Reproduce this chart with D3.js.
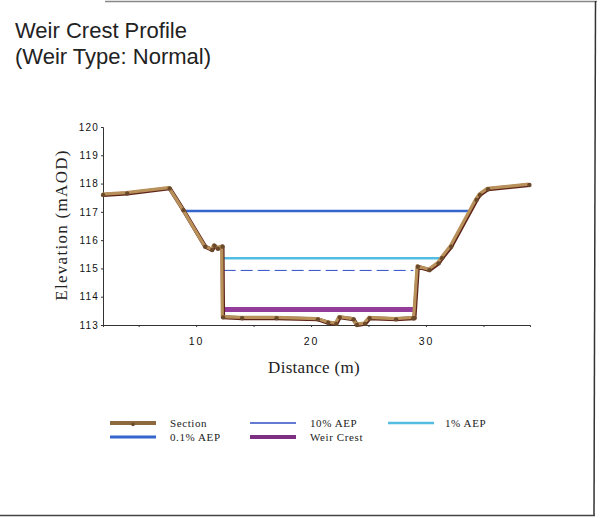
<!DOCTYPE html>
<html>
<head>
<meta charset="utf-8">
<script src="https://cdn.jsdelivr.net/npm/d3@7"></script>
<style>
  body { margin: 0; background: #fff; }
  svg { display: block; }
</style>
</head>
<body>
<div id="chart"></div>
<script>
// cross section profile (distance m, elevation mAOD)
const sectionX = [1.9, 4.0, 7.7, 8.9, 10.8, 11.4, 11.6, 11.9, 12.3, 12.35, 14.0, 17.0, 20.6, 21.5, 22.2, 22.5, 23.7, 24.0, 24.7, 25.1, 27.4, 28.9, 29.0, 29.3, 30.3, 31.1, 31.4, 32.2, 34.4, 34.7, 35.4, 39.0];
const sectionY = [117.6, 117.65, 117.83, 117.06, 115.77, 115.65, 115.8, 115.7, 115.77, 113.27, 113.24, 113.24, 113.2, 113.08, 113.04, 113.27, 113.2, 113.0, 113.04, 113.24, 113.2, 113.24, 113.24, 115.06, 114.94, 115.18, 115.36, 115.77, 117.42, 117.6, 117.8, 117.95];

// water levels and weir crest
const levelNames = ['0.1% AEP', '1% AEP', '10% AEP', 'Weir Crest'];
const levelValues = [117.03, 115.36, 114.93, 113.55];
const levelFrom = [8.9, 12.3, 12.4, 12.3];
const levelTo = [34.0, 31.4, 28.9, 29.0];

const xTicks = [5, 10, 15, 20, 25, 30, 35];
const xLabels = [10, 20, 30];
const yTicks = [113, 114, 115, 116, 117, 118, 119, 120];

const width = 606, height = 518;

const svg = d3.select('#chart').append('svg')
    .attr('width', width)
    .attr('height', height);

// outer frame (scanned page edges)
svg.append('line').attr('x1', 105).attr('x2', 597).attr('y1', 1.5).attr('y2', 1.5)
    .attr('stroke', '#888').attr('stroke-width', 1.5);
svg.append('line').attr('x1', 595.5).attr('x2', 594).attr('y1', 1).attr('y2', 516)
    .attr('stroke', '#333').attr('stroke-width', 1.5);
svg.append('line').attr('x1', 0).attr('x2', 595).attr('y1', 515.5).attr('y2', 515.5)
    .attr('stroke', '#444').attr('stroke-width', 1.5);

// title
svg.append('text')
    .attr('x', 15).attr('y', 38)
    .style('font-family', 'Liberation Sans, Arial, sans-serif')
    .style('font-size', '22px')
    .attr('fill', '#222')
    .text('Weir Crest Profile');
svg.append('text')
    .attr('x', 15).attr('y', 64)
    .style('font-family', 'Liberation Sans, Arial, sans-serif')
    .style('font-size', '22px')
    .attr('fill', '#222')
    .text('(Weir Type: Normal)');

let x = d3.scaleLinear()
    .domain([1.9, 39.05])
    .range([103, 530]);

let y = d3.scaleLinear()
    .domain([113, 120])
    .range([325, 127]);

// axes
let xAxis = g => g
    .attr('transform', `translate(0,${y(113)})`)
    .call(d3.axisBottom(x).tickValues(xTicks).tickSize(2)
        .tickFormat(d => xLabels.includes(d) ? d : ''));

let yAxis = g => g
    .attr('transform', `translate(${x(1.9)},0)`)
    .call(d3.axisLeft(y).tickValues(yTicks).tickSize(2).tickFormat(d3.format('d')));

let gx = svg.append('g').call(xAxis);
let gy = svg.append('g').call(yAxis);

[gx, gy].forEach(g => {
    g.select('.domain').attr('stroke', '#333').attr('stroke-width', 1);
    g.selectAll('.tick line').attr('stroke', '#333');
    g.selectAll('.tick text')
        .attr('fill', '#111')
        .style('font-family', 'Liberation Sans, Arial, sans-serif')
        .style('font-size', '10px')
        .style('letter-spacing', '1.2px');
});
gx.selectAll('.tick text').attr('dy', '1.45em').style('font-size', '10.5px').style('letter-spacing', '2px');
gy.selectAll('.tick text').attr('x', -4);

// axis titles
svg.append('text')
    .attr('x', 314).attr('y', 373)
    .attr('text-anchor', 'middle')
    .style('font-family', 'Liberation Serif, Times New Roman, serif')
    .style('font-size', '17px')
    .style('letter-spacing', '0.3px')
    .attr('fill', '#222')
    .text('Distance (m)');

svg.append('text')
    .attr('transform', 'translate(67,225) rotate(-90)')
    .attr('text-anchor', 'middle')
    .style('font-family', 'Liberation Serif, Times New Roman, serif')
    .style('font-size', '17px')
    .style('letter-spacing', '1.3px')
    .attr('fill', '#222')
    .text('Elevation (mAOD)');

// level styles
const levelColors = ['#3566cc', '#52bde0', '#2f4fc4', '#943c9a'];
const levelWidths = [2.5, 2.5, 1, 5];
const levelDash = [null, null, '12,5', null];

svg.append('g').selectAll('line')
    .data(levelNames)
    .enter()
    .append('line')
    .attr('x1', (d, i) => x(levelFrom[i]))
    .attr('x2', (d, i) => x(levelTo[i]))
    .attr('y1', (d, i) => y(levelValues[i]))
    .attr('y2', (d, i) => y(levelValues[i]))
    .attr('stroke', (d, i) => levelColors[i])
    .attr('stroke-width', (d, i) => levelWidths[i])
    .attr('stroke-dasharray', (d, i) => levelDash[i]);

// section line
const pts = sectionX.map((d, i) => [d, sectionY[i]]);
const line = d3.line().x(d => x(d[0])).y(d => y(d[1]));

svg.append('path')
    .datum(pts)
    .attr('d', line)
    .attr('fill', 'none')
    .attr('stroke', '#5e2418')
    .attr('stroke-width', 4)
    .attr('stroke-linejoin', 'round');

svg.append('path')
    .datum(pts)
    .attr('d', line)
    .attr('transform', 'translate(-0.8,-0.8)')
    .attr('fill', 'none')
    .attr('stroke', '#b8905a')
    .attr('stroke-width', 3.2)
    .attr('stroke-linejoin', 'round');

svg.append('g').selectAll('circle')
    .data(pts)
    .enter()
    .append('circle')
    .attr('cx', d => x(d[0]))
    .attr('cy', d => y(d[1]))
    .attr('r', 2.2)
    .attr('fill', '#6a4a2a');

// legend
const legendItems = [
    { name: 'Section', color: '#8d6a3e', w: 4, col: 0, row: 0 },
    { name: '10% AEP', color: '#2f4fc4', w: 1.5, col: 1, row: 0 },
    { name: '1% AEP', color: '#52bde0', w: 2.5, col: 2, row: 0 },
    { name: '0.1% AEP', color: '#3566cc', w: 3, col: 0, row: 1 },
    { name: 'Weir Crest', color: '#7d2f83', w: 4, col: 1, row: 1 }
];
const colX = [110, 250, 388];
const rowY = [423, 437];

let legend = svg.append('g')
    .selectAll('g')
    .data(legendItems)
    .enter()
    .append('g')
    .attr('transform', d => `translate(${colX[d.col]},${rowY[d.row]})`);

legend.append('line')
    .attr('x1', 0).attr('x2', 46)
    .attr('y1', 0).attr('y2', 0)
    .attr('stroke', d => d.color)
    .attr('stroke-width', d => d.w);

legend.filter(d => d.name === 'Section')
    .append('circle')
    .attr('cx', 23).attr('cy', 1.5).attr('r', 1.8)
    .attr('fill', '#6a4a2a');

legend.append('text')
    .attr('x', d => d.col === 2 ? 57 : 60)
    .attr('y', 4)
    .style('font-family', 'Liberation Serif, Times New Roman, serif')
    .style('font-size', '11px')
    .style('letter-spacing', '0.6px')
    .attr('fill', '#222')
    .text(d => d.name);
</script>
</body>
</html>
